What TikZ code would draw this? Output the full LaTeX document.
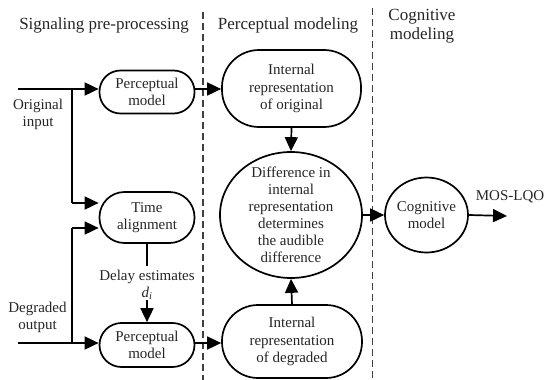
\documentclass[tikz,border=0pt]{standalone}
\usepackage{fontspec}
\setmainfont{Liberation Serif}
\usetikzlibrary{arrows.meta,shapes.geometric}
\begin{document}
\begin{tikzpicture}[x=1pt,y=-1pt,
  txt/.style={font=\fontsize{15}{17.5}\selectfont, align=center, text=black!85, inner sep=0pt},
  ttl/.style={font=\fontsize{17}{19}\selectfont, align=center, text=black!85, inner sep=0pt},
  stad/.style={draw, line width=1.7pt, rounded corners=#1, inner sep=0pt, font=\fontsize{15}{17.5}\selectfont, align=center, text=black!85},
  conn/.style={line width=1.7pt},
  arr/.style={line width=1.7pt, -{Triangle[length=14pt,width=13pt]}},
  sep/.style={line width=1.3pt, black!75, dash pattern=on 7pt off 4pt}
]
\useasboundingbox (0,0) rectangle (552,380);
% separators
\coordinate (s1t) at (203,12);
\coordinate (s1b) at (203,380);
\coordinate (s2t) at (372.5,8);
\coordinate (s2b) at (372.5,380);
\draw[sep] (s1t) -- (s1b);
\draw[sep] (s2t) -- (s2b);
% titles
\node[ttl] (t1) at (104,25) {Signaling pre-processing};
\node[ttl] (t2) at (288,25) {Perceptual modeling};
\node[ttl] (t3) at (422,26.5) {Cognitive\\modeling};
% nodes
\node[stad=21pt, minimum width=95pt, minimum height=43pt] (pm1) at (147,92) {Perceptual\\model};
\node[stad=37pt, minimum width=139pt, minimum height=77pt] (iro) at (291.5,88.5) {Internal\\representation\\of original};
\node[ellipse, draw, line width=1.7pt, minimum width=142pt, minimum height=126pt, inner sep=0pt,
  label={[txt, font=\fontsize{15}{17}\selectfont]center:Difference in\\internal\\representation\\determines\\the audible\\difference}] (diff) at (291,215) {};
\node[stad=25pt, minimum width=95pt, minimum height=51pt] (ta) at (147,217.5) {Time\\alignment};
\node[stad=22pt, minimum width=95pt, minimum height=44pt] (pm2) at (147,345) {Perceptual\\model};
\node[stad=36pt, minimum width=140pt, minimum height=73pt] (ird) at (292,341.5) {Internal\\representation\\of degraded};
\node[ellipse, draw, line width=1.7pt, minimum width=83pt, minimum height=75pt, inner sep=0pt,
  label={[txt]center:Cognitive\\model}] (cog) at (426.5,215) {};
% labels
\node[txt] (lo) at (38,114.5) {Original\\input};
\node[txt] (ld) at (37.5,317.5) {Degraded\\output};
\node[txt] (de) at (147,276.5) {Delay estimates};
\node[txt, anchor=base] (di) at (147,297) {\itshape d\textsubscript{i}};
\node[txt] (mos) at (510,197) {MOS-LQO};
% coordinates
\coordinate (in1) at (18,89);
\coordinate (br1) at (72,89);
\coordinate (in2) at (18,343);
\coordinate (br2) at (72,343);
\coordinate (ta1) at (72,203);
\coordinate (ta2) at (72,228);
\coordinate (dl1) at (147,266);
\coordinate (dl2) at (147,300);
\coordinate (out) at (507,216);
% connectors
\draw[arr] (in1) -- (in1 -| pm1.west);
\draw[conn] (br1) -- (ta1);
\draw[arr] (ta1) -- (ta1 -| ta.west);
\draw[arr] (in2) -- (in2 -| pm2.west);
\draw[conn] (br2) -- (ta2);
\draw[arr] (ta2) -- (ta2 -| ta.west);
\draw[conn] (ta.south) -- (dl1);
\draw[arr] (dl2) -- (pm2.north);
\draw[arr] (pm1.east |- in1) -- (in1 -| iro.west);
\draw[arr] (pm2.east |- in2) -- (in2 -| ird.west);
\draw[arr] (iro.south) -- (diff.north);
\draw[arr] (ird.north) -- (diff.south);
\draw[arr] (diff.east) -- (cog.west);
\draw[arr] (cog.east) -- (out);
\end{tikzpicture}
\end{document}
